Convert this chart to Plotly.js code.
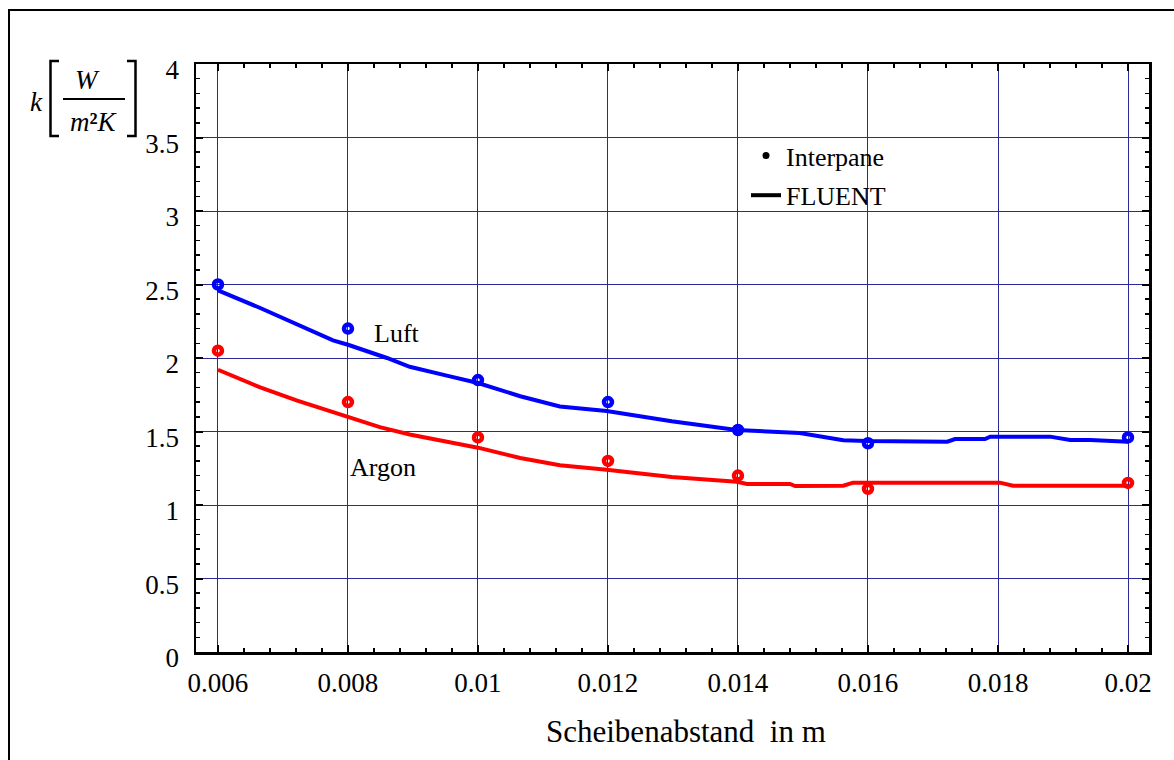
<!DOCTYPE html>
<html>
<head>
<meta charset="utf-8">
<script src="https://cdn.plot.ly/plotly-3.0.1.min.js"></script>
<style>
  html, body { margin: 0; padding: 0; background: #fff; overflow: hidden; }
  #chart { width: 1174px; height: 760px; position: absolute; left: 0; top: 0; }
  #frame { position: absolute; left: 8px; top: 9px; width: 1300px; height: 900px;
           border: 2.5px solid #000; pointer-events: none; box-sizing: border-box; }
</style>
</head>
<body>
<div id="chart"></div>
<div id="frame"></div>
<script>
// Pane spacing (m) of the Interpane reference values
const spacing = [0.006, 0.008, 0.010, 0.012, 0.014, 0.016, 0.020];
const interpaneLuft  = [2.50, 2.20, 1.85, 1.70, 1.51, 1.42, 1.46];
const interpaneArgon = [2.05, 1.70, 1.46, 1.30, 1.20, 1.11, 1.15];

// FLUENT simulation curves
const fluentLuftX = [0.00600, 0.00665, 0.00777, 0.00800, 0.00860, 0.00895, 0.00952, 0.01000,
  0.01065, 0.01126, 0.01198, 0.01298, 0.01398, 0.01495, 0.01562, 0.01598, 0.01722, 0.01734,
  0.01780, 0.01788, 0.01880, 0.01911, 0.01942, 0.02000];
const fluentLuftY = [2.46, 2.34, 2.12, 2.09, 2.00, 1.94, 1.88, 1.83,
  1.74, 1.67, 1.64, 1.57, 1.51, 1.49, 1.44, 1.435, 1.431, 1.449,
  1.449, 1.465, 1.465, 1.442, 1.442, 1.431];

const fluentArgonX = [0.00600, 0.00665, 0.00722, 0.00800, 0.00849, 0.00895, 0.00952, 0.01000,
  0.01065, 0.01126, 0.01198, 0.01298, 0.01398, 0.01414, 0.01480, 0.01488, 0.01562, 0.01577,
  0.01803, 0.01823, 0.02000];
const fluentArgonY = [1.92, 1.80, 1.71, 1.60, 1.53, 1.48, 1.43, 1.39,
  1.32, 1.27, 1.24, 1.19, 1.158, 1.143, 1.143, 1.129, 1.131, 1.152,
  1.152, 1.131, 1.131];

const BLUE = '#0000ff';
const RED = '#ff0000';
const GRID = '#2a2a96';
const SERIF = '"Liberation Serif", "Times New Roman", serif';

// plot-area geometry in pixels (used to place the unit label beside the y axis)
const W = 1174, H = 760;
const M = { l: 196, r: 25, t: 64, b: 108 };
const pw = W - M.l - M.r, ph = H - M.t - M.b;
const px = (x) => (x - M.l) / pw;
const py = (y) => (H - M.b - y) / ph;

const traces = [
  { x: fluentLuftX, y: fluentLuftY, mode: 'lines', line: { color: BLUE, width: 4 },
    showlegend: false, hoverinfo: 'skip' },
  { x: fluentArgonX, y: fluentArgonY, mode: 'lines', line: { color: RED, width: 4 },
    showlegend: false, hoverinfo: 'skip' },
  { x: spacing, y: interpaneLuft, mode: 'markers',
    marker: { symbol: 'circle-open', size: 8, color: BLUE, line: { width: 4.5, color: BLUE } },
    showlegend: false },
  { x: spacing, y: interpaneArgon, mode: 'markers',
    marker: { symbol: 'circle-open', size: 8, color: RED, line: { width: 4.5, color: RED } },
    showlegend: false },
  // legend keys
  { x: [null], y: [null], mode: 'markers', name: 'Interpane', legendgroup: 'a',
    marker: { color: '#000', size: 7 } },
  { x: [null], y: [null], mode: 'lines', name: 'FLUENT', legendgroup: 'b',
    line: { color: '#000', width: 4 } }
];

// bracket paths for the unit label  k [ W / m²K ]
function bracketPath(xv, xs, y0, y1) {
  return `M ${px(xs)} ${py(y0)} L ${px(xv)} ${py(y0)} L ${px(xv)} ${py(y1)} L ${px(xs)} ${py(y1)}`;
}

const layout = {
  width: W, height: H,
  margin: M,
  paper_bgcolor: '#fff', plot_bgcolor: '#fff',
  font: { family: SERIF, size: 26, color: '#000' },
  showlegend: true,
  legend: {
    x: px(746), y: py(132), xanchor: 'left', yanchor: 'top',
    bgcolor: 'rgba(0,0,0,0)', borderwidth: 0,
    font: { family: SERIF, size: 26, color: '#000' },
    tracegroupgap: 3
  },
  xaxis: {
    range: [0.005662, 0.020323],
    tickmode: 'linear', tick0: 0.006, dtick: 0.002,
    ticks: 'inside', ticklen: 7, tickwidth: 2, tickcolor: '#000',
    showline: true, linewidth: 2.5, linecolor: '#000', mirror: 'ticks',
    showgrid: true, gridcolor: GRID, gridwidth: 1,
    zeroline: false,
    tickfont: { family: SERIF, size: 27, color: '#000' },
    ticklabelstandoff: 5,
    minor: { dtick: 0.0004, tick0: 0.006, ticks: 'inside', ticklen: 4, tickwidth: 1.5,
             tickcolor: '#000', showgrid: false }
  },
  yaxis: {
    range: [0, 4],
    tickmode: 'linear', tick0: 0, dtick: 0.5,
    ticks: 'inside', ticklen: 7, tickwidth: 2, tickcolor: '#000',
    showline: true, linewidth: 2.5, linecolor: '#000', mirror: 'ticks',
    showgrid: true, gridcolor: GRID, gridwidth: 1,
    zeroline: false,
    tickfont: { family: SERIF, size: 27, color: '#000' },
    ticklabelstandoff: 9,
    ticklabelshift: 6,
    minor: { dtick: 0.1, tick0: 0, ticks: 'inside', ticklen: 4, tickwidth: 1.5,
             tickcolor: '#000', showgrid: false }
  },
  shapes: [
    { type: 'path', xref: 'paper', yref: 'paper', path: bracketPath(50.5, 59, 61, 136),
      line: { color: '#000', width: 2.5 } },
    { type: 'path', xref: 'paper', yref: 'paper', path: bracketPath(135.5, 127, 61, 136),
      line: { color: '#000', width: 2.5 } },
    { type: 'line', xref: 'paper', yref: 'paper', x0: px(63), x1: px(125), y0: py(99), y1: py(99),
      line: { color: '#000', width: 2 } }
  ],
  annotations: [
    { xref: 'x', yref: 'y', x: 0.008754, y: 2.17, text: 'Luft', showarrow: false,
      font: { family: SERIF, size: 26, color: '#000' } },
    { xref: 'x', yref: 'y', x: 0.008538, y: 1.255, text: 'Argon', showarrow: false,
      font: { family: SERIF, size: 26, color: '#000' } },
    { xref: 'paper', yref: 'paper', x: px(686), y: py(731), text: 'Scheibenabstand\u00a0 in m',
      showarrow: false, xanchor: 'center', yanchor: 'middle',
      font: { family: SERIF, size: 31, color: '#000' } },
    { xref: 'paper', yref: 'paper', x: px(36), y: py(102), text: '<i>k</i>', showarrow: false,
      xanchor: 'center', yanchor: 'middle', font: { family: SERIF, size: 27, color: '#000' } },
    { xref: 'paper', yref: 'paper', x: px(87), y: py(80), text: '<i>W</i>', showarrow: false,
      xanchor: 'center', yanchor: 'middle', font: { family: SERIF, size: 27, color: '#000' } },
    { xref: 'paper', yref: 'paper', x: px(94), y: py(122), text: '<i>m</i><b>²</b><i>K</i>', showarrow: false,
      xanchor: 'center', yanchor: 'middle', font: { family: SERIF, size: 27, color: '#000' } }
  ]
};

Plotly.newPlot('chart', traces, layout, { displayModeBar: false, staticPlot: true });
</script>
</body>
</html>
